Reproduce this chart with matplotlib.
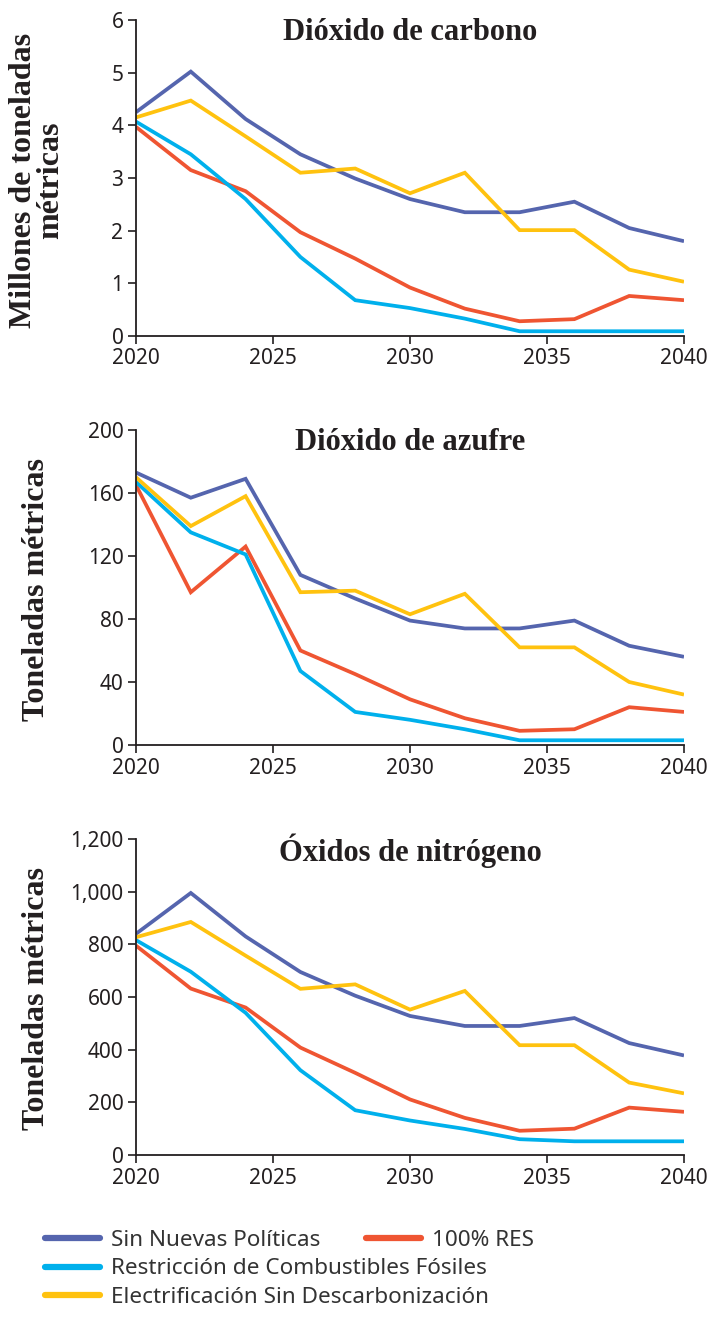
import matplotlib.pyplot as plt
from matplotlib.lines import Line2D

years = [2020, 2022, 2024, 2026, 2028, 2030, 2032, 2034, 2036, 2038, 2040]

series_names = ["Sin Nuevas Políticas", "100% RES",
                "Restricción de Combustibles Fósiles",
                "Electrificación Sin Descarbonización"]
colors = ["#5565ae", "#ef5532", "#00b0ec", "#ffc20f"]

# Dióxido de carbono (millones de toneladas métricas)
co2_sin = [4.25, 5.02, 4.12, 3.45, 2.99, 2.6, 2.35, 2.35, 2.55, 2.05, 1.8]
co2_res = [3.97, 3.15, 2.75, 1.97, 1.47, 0.92, 0.52, 0.28, 0.32, 0.76, 0.68]
co2_rcf = [4.07, 3.45, 2.6, 1.5, 0.68, 0.53, 0.33, 0.09, 0.09, 0.09, 0.09]
co2_esd = [4.15, 4.47, 3.79, 3.1, 3.18, 2.71, 3.1, 2.01, 2.01, 1.26, 1.03]

# Dióxido de azufre (toneladas métricas)
so2_sin = [173, 157, 169, 108, 93, 79, 74, 74, 79, 63, 56]
so2_res = [165, 97, 126, 60, 45, 29, 17, 9, 10, 24, 21]
so2_rcf = [167, 135, 121, 47, 21, 16, 10, 3, 3, 3, 3]
so2_esd = [170, 139, 158, 97, 98, 83, 96, 62, 62, 40, 32]

# Óxidos de nitrógeno (toneladas métricas)
nox_sin = [840, 995, 830, 695, 605, 528, 490, 490, 520, 425, 378]
nox_res = [795, 632, 560, 408, 312, 211, 141, 92, 100, 180, 164]
nox_rcf = [816, 696, 540, 322, 170, 131, 99, 60, 52, 52, 52]
nox_esd = [827, 885, 757, 631, 648, 552, 623, 417, 417, 275, 234]

x_ticks = [2020, 2025, 2030, 2035, 2040]

panels = [
    ("Dióxido de carbono", "Millones de toneladas\nmétricas",
     [co2_sin, co2_res, co2_rcf, co2_esd], 6,
     [0, 1, 2, 3, 4, 5, 6], ["0", "1", "2", "3", "4", "5", "6"]),
    ("Dióxido de azufre", "Toneladas métricas",
     [so2_sin, so2_res, so2_rcf, so2_esd], 200,
     [0, 40, 80, 120, 160, 200], ["0", "40", "80", "120", "160", "200"]),
    ("Óxidos de nitrógeno", "Toneladas métricas",
     [nox_sin, nox_res, nox_rcf, nox_esd], 1200,
     [0, 200, 400, 600, 800, 1000, 1200],
     ["0", "200", "400", "600", "800", "1,000", "1,200"]),
]

dark = "#231f20"
sans = "Noto Sans"
serif = "Liberation Serif"

W, H = 707, 1317
fig = plt.figure(figsize=(W / 100, H / 100), dpi=100)

# axes boxes in pixels: (top, bottom)
boxes = [(20, 336), (430, 745), (839, 1155)]
left_px, right_px = 136, 684

draw_order = [1, 2, 0, 3]

for (title, ylab, data, ymax, yt, ytl), (top, bot) in zip(panels, boxes):
    ax = fig.add_axes([left_px / W, 1 - bot / H,
                       (right_px - left_px) / W, (bot - top) / H])
    for i in draw_order:
        ax.plot(years, data[i], color=colors[i], lw=2.7,
                solid_capstyle="butt", solid_joinstyle="miter")
    ax.set_xlim(2020, 2040)
    ax.set_ylim(0, ymax)
    ax.set_xticks(x_ticks)
    ax.set_xticklabels([str(t) for t in x_ticks])
    ax.set_yticks(yt)
    ax.set_yticklabels(ytl)
    for s in ["top", "right"]:
        ax.spines[s].set_visible(False)
    for s in ["left", "bottom"]:
        ax.spines[s].set_color(dark)
        ax.spines[s].set_linewidth(1.3)
    ax.tick_params(axis="both", colors=dark, length=6, width=1.2,
                   labelsize=15, pad=3)
    for lab in ax.get_xticklabels() + ax.get_yticklabels():
        lab.set_fontfamily(sans)
    ax.text(0.5, 1 - 12 / (bot - top), title, transform=ax.transAxes,
            ha="center", va="center", fontsize=22, fontweight="bold",
            family=serif, color=dark)
    fig.text(37 / W, 1 - ((top + bot) / 2 + 2) / H, ylab, rotation=90,
             ha="center", va="center", fontsize=23, fontweight="bold",
             family=serif, color=dark, linespacing=0.95,
             multialignment="center")

handles = [Line2D([], [], color=c, lw=4.5, solid_capstyle="round") for c in colors]

leg_kw = dict(frameon=False, handlelength=2.45, handletextpad=0.5,
              labelspacing=0.33, borderaxespad=0, borderpad=0,
              prop={"family": sans, "size": 16.2}, labelcolor="#333333")

fig.legend([handles[0], handles[2], handles[3]],
           [series_names[0], series_names[2], series_names[3]],
           loc="upper left", bbox_to_anchor=(45 / W, 1 - 1230 / H), **leg_kw)
fig.legend([handles[1]], [series_names[1]],
           loc="upper left", bbox_to_anchor=(366 / W, 1 - 1230 / H), **leg_kw)

fig.savefig("out.png", dpi=100)
